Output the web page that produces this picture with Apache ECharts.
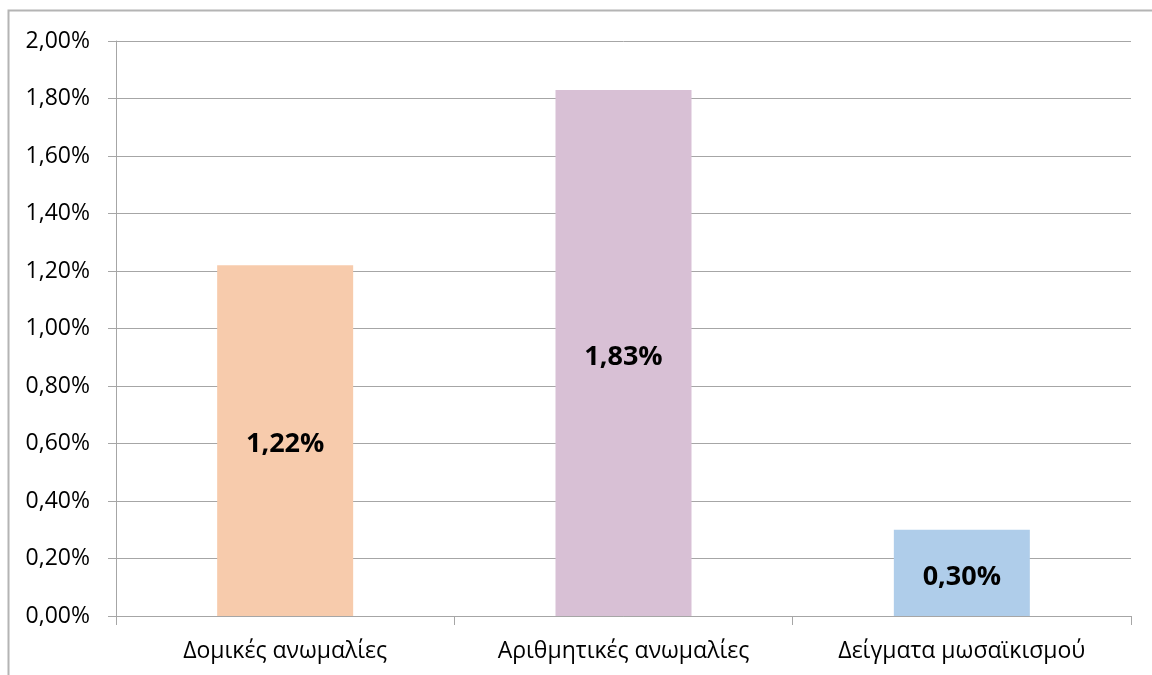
<!DOCTYPE html>
<html>
<head>
<meta charset="utf-8">
<title>Ανωμαλίες</title>
<script src="https://cdn.jsdelivr.net/npm/echarts@6/dist/echarts.min.js"></script>
<style>
  html, body { margin: 0; padding: 0; background: #ffffff; }
  #chart { width: 1152px; height: 675px; }
</style>
</head>
<body>
<div id="chart"></div>
<script>
// Categories and their percentages
const categories = ['Δομικές ανωμαλίες', 'Αριθμητικές ανωμαλίες', 'Δείγματα μωσαϊκισμού'];
const percentages = [1.22, 1.83, 0.30];
const barColors = ['#F7CBAC', '#D8C0D5', '#AFCDEA'];

const fmt = v => v.toFixed(2).replace('.', ',') + '%';
const FONT = '"Open Sans", "DejaVu Sans", sans-serif';
const GRID_COLOR = '#a6a6a6';

const chart = echarts.init(document.getElementById('chart'), null, { renderer: 'canvas' });

chart.setOption({
  animation: false,
  backgroundColor: '#ffffff',
  graphic: [{
    type: 'rect',
    shape: { x: 8.5, y: 10.5, width: 1200, height: 700 },
    style: { fill: 'none', stroke: '#b4b4b4', lineWidth: 2 },
    silent: true
  }],
  grid: { left: 116, right: 21, top: 41, bottom: 59, containLabel: false },
  xAxis: {
    type: 'category',
    data: categories,
    axisLine: { show: true, lineStyle: { color: GRID_COLOR, width: 1 } },
    axisTick: { show: true, length: 9, lineStyle: { color: GRID_COLOR } },
    axisLabel: { color: '#000', fontFamily: FONT, fontSize: 23, margin: 24 }
  },
  yAxis: {
    type: 'value',
    min: 0,
    max: 2,
    interval: 0.2,
    axisLine: { show: true, lineStyle: { color: GRID_COLOR, width: 1 } },
    axisTick: { show: true, length: 8, lineStyle: { color: GRID_COLOR } },
    axisLabel: { color: '#000', fontFamily: FONT, fontSize: 23, margin: 26, formatter: fmt },
    splitLine: { show: true, lineStyle: { color: GRID_COLOR, width: 1 } }
  },
  series: [{
    type: 'bar',
    barWidth: 136,
    data: percentages.map((v, i) => ({ value: v, itemStyle: { color: barColors[i] } })),
    label: {
      show: true,
      position: 'inside',
      offset: [0, 4],
      formatter: p => fmt(p.value),
      color: '#000',
      fontFamily: FONT,
      fontWeight: 'bold',
      fontSize: 27
    }
  }]
});
</script>
</body>
</html>
